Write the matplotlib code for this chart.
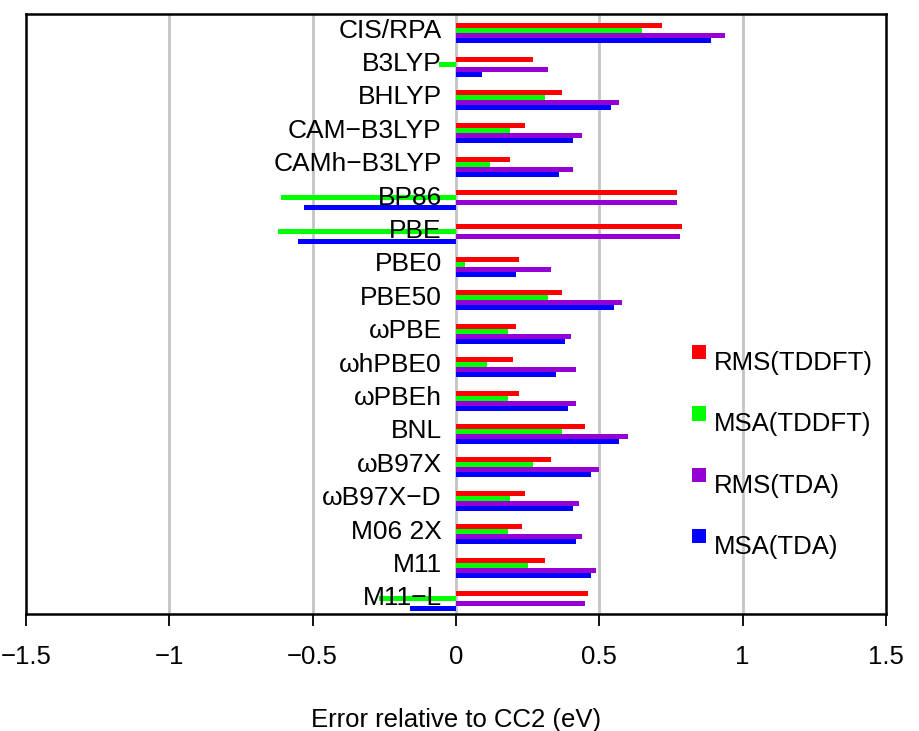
import numpy as np
import matplotlib as mpl
mpl.use("Agg")
import matplotlib.pyplot as plt
from matplotlib.patches import Patch, Rectangle
from matplotlib.legend_handler import HandlerPatch
from matplotlib.ticker import FuncFormatter

plt.rcParams.update({"font.family": ["Liberation Sans", "DejaVu Sans"], "font.size": 18.5})

# ---- data (eV, relative to CC2) ----
methods = ["CIS/RPA", "B3LYP", "BHLYP", "CAM\u2212B3LYP", "CAMh\u2212B3LYP", "BP86", "PBE",
           "PBE0", "PBE50", "\u03c9PBE", "\u03c9hPBE0", "\u03c9PBEh", "BNL", "\u03c9B97X",
           "\u03c9B97X\u2212D", "M06 2X", "M11", "M11\u2212L"]
rms_tddft = [0.72, 0.27, 0.37, 0.24, 0.19, 0.77, 0.79, 0.22, 0.37, 0.21, 0.20, 0.22, 0.45, 0.33, 0.24, 0.23, 0.31, 0.46]
msa_tddft = [0.65, -0.06, 0.31, 0.19, 0.12, -0.61, -0.62, 0.03, 0.32, 0.18, 0.11, 0.18, 0.37, 0.27, 0.19, 0.18, 0.25, -0.27]
rms_tda   = [0.94, 0.32, 0.57, 0.44, 0.41, 0.77, 0.78, 0.33, 0.58, 0.40, 0.42, 0.42, 0.60, 0.50, 0.43, 0.44, 0.49, 0.45]
msa_tda   = [0.89, 0.09, 0.54, 0.41, 0.36, -0.53, -0.55, 0.21, 0.55, 0.38, 0.35, 0.39, 0.57, 0.47, 0.41, 0.42, 0.47, -0.16]
series = ["RMS(TDDFT)", "MSA(TDDFT)", "RMS(TDA)", "MSA(TDA)"]
COL = ["#ff0000", "#00ff00", "#9400d3", "#0000ff"]

fig = plt.figure(figsize=(9.19, 7.31), dpi=100)
ax = fig.add_axes([0.0283, 0.160, 0.9357, 0.821])

y = np.arange(len(methods))
h = 0.15
for k, vals in enumerate([rms_tddft, msa_tddft, rms_tda, msa_tda]):
    ax.barh(y + (k - 1.5) * h, vals, height=h, color=COL[k], zorder=3, linewidth=0)

# method labels sit inside the plot, right-aligned just left of zero
for yi, m in zip(y, methods):
    ax.text(-0.05, yi - 0.08, m, ha="right", va="center", fontsize=19, zorder=4)

ax.set_xlim(-1.5, 1.5)
ax.set_ylim(len(methods) - 0.61, -0.58)
ax.set_yticks([])
ax.set_xticks([-1.5, -1, -0.5, 0, 0.5, 1, 1.5])
ax.xaxis.set_major_formatter(FuncFormatter(lambda v, p: ("%g" % v).replace("-", "\u2212")))
ax.tick_params(axis="x", direction="out", length=8.5, width=1.3, pad=14, labelsize=18.5)
for g in [-1, -0.5, 0, 0.5, 1]:
    ax.axvline(g, color="#c4c4c4", linewidth=2, zorder=1)
for s in ax.spines.values():
    s.set_linewidth(1.8)

ax.set_xlabel("Error relative to CC2 (eV)", fontsize=18.5, labelpad=28)

# legend squares sit a little above the text line, as in the original
def raised_square(legend, orig_handle, xdescent, ydescent, width, height, fontsize):
    side = 0.55 * fontsize
    return Rectangle((-xdescent, -ydescent + 0.42 * fontsize), side, side)

handles = [Patch(facecolor=c, edgecolor="none") for c in COL]
ax.legend(handles, series, loc="center left", bbox_to_anchor=(0.748, 0.265), frameon=False,
          handlelength=0.55, handleheight=0.7, handletextpad=0.3, labelspacing=1.45,
          fontsize=18.5, handler_map={Patch: HandlerPatch(patch_func=raised_square)})

fig.savefig("out.png", dpi=100)
